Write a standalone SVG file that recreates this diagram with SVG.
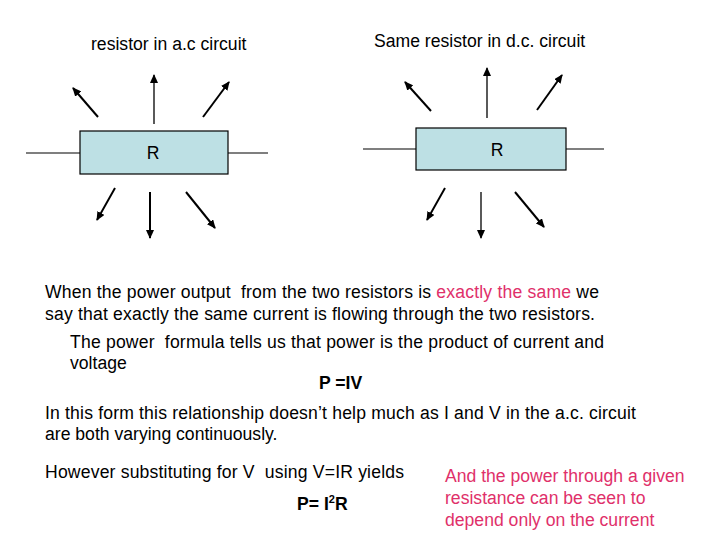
<svg xmlns="http://www.w3.org/2000/svg" width="720" height="540" viewBox="0 0 720 540">
<style>
text{font-family:"Liberation Sans",Arial,sans-serif;font-size:17.6px;fill:#000;white-space:pre}
.red{fill:#e0306a}
.box{fill:#bde0e4;stroke:#000;stroke-width:1.2}
.w{stroke:#000;stroke-width:1.2}
.a{stroke:#000;stroke-width:2;marker-end:url(#ah)}
.a1{stroke:#000;stroke-width:1.3;marker-end:url(#ah)}
</style>
<defs><marker id="ah" markerWidth="10" markerHeight="8" refX="8" refY="4" orient="auto" markerUnits="userSpaceOnUse"><path d="M0,0L9,4L0,8z" fill="#000"/></marker></defs>
<rect width="720" height="540" fill="#fff"/>
<g id="connectors">
<line class="w" x1="26" y1="153" x2="80" y2="153"/><line class="w" x1="228" y1="153" x2="268" y2="153"/>
<line class="a" x1="98" y1="117" x2="73" y2="88"/><line class="a1" x1="154" y1="124" x2="154" y2="75"/>
<line class="a" x1="203" y1="117" x2="229" y2="82"/><line class="a" x1="115" y1="188" x2="97" y2="220"/>
<line class="a" x1="150" y1="192" x2="150" y2="238"/><line class="a" x1="186" y1="192" x2="215" y2="228"/>
<line class="w" x1="363" y1="149" x2="416" y2="149"/><line class="w" x1="566" y1="149" x2="604" y2="149"/>
<line class="a" x1="431" y1="111" x2="405" y2="82"/><line class="a1" x1="487" y1="118" x2="487" y2="68"/>
<line class="a" x1="537" y1="110" x2="562" y2="75"/><line class="a" x1="445" y1="188" x2="427" y2="220"/>
<line class="a1" x1="481" y1="192" x2="481" y2="238"/><line class="a" x1="515" y1="192" x2="544" y2="227"/>
</g>
<g id="r1"><rect class="box" x="80" y="131" width="148" height="43"/><text x="153" y="159" text-anchor="middle">R</text></g>
<g id="r2"><rect class="box" x="416" y="128" width="150" height="42"/><text x="497" y="156" text-anchor="middle">R</text></g>
<g id="texts">
<text x="91" y="50">resistor in a.c circuit</text>
<text x="374" y="47">Same resistor in d.c. circuit</text>
<text x="45" y="298" textLength="554">When the power output  from the two resistors is <tspan class="red">exactly the same</tspan> we</text>
<text x="45" y="320" textLength="550">say that exactly the same current is flowing through the two resistors.</text>
<text x="70" y="348" textLength="534">The power  formula tells us that power is the product of current and</text>
<text x="70" y="369">voltage</text>
<text x="319" y="389" font-weight="bold">P =IV</text>
<text x="45" y="419" textLength="591">In this form this relationship doesn’t help much as I and V in the a.c. circuit</text>
<text x="45" y="440">are both varying continuously.</text>
<text x="45" y="478" textLength="359">However substituting for V  using V=IR yields</text>
<text x="297" y="510" font-weight="bold">P= I<tspan font-size="11" dy="-7">2</tspan><tspan dy="7">R</tspan></text>
<text class="red" x="445" y="482">And the power through a given</text>
<text class="red" x="445" y="504">resistance can be seen to</text>
<text class="red" x="445" y="526">depend only on the current</text>
</g>
</svg>
